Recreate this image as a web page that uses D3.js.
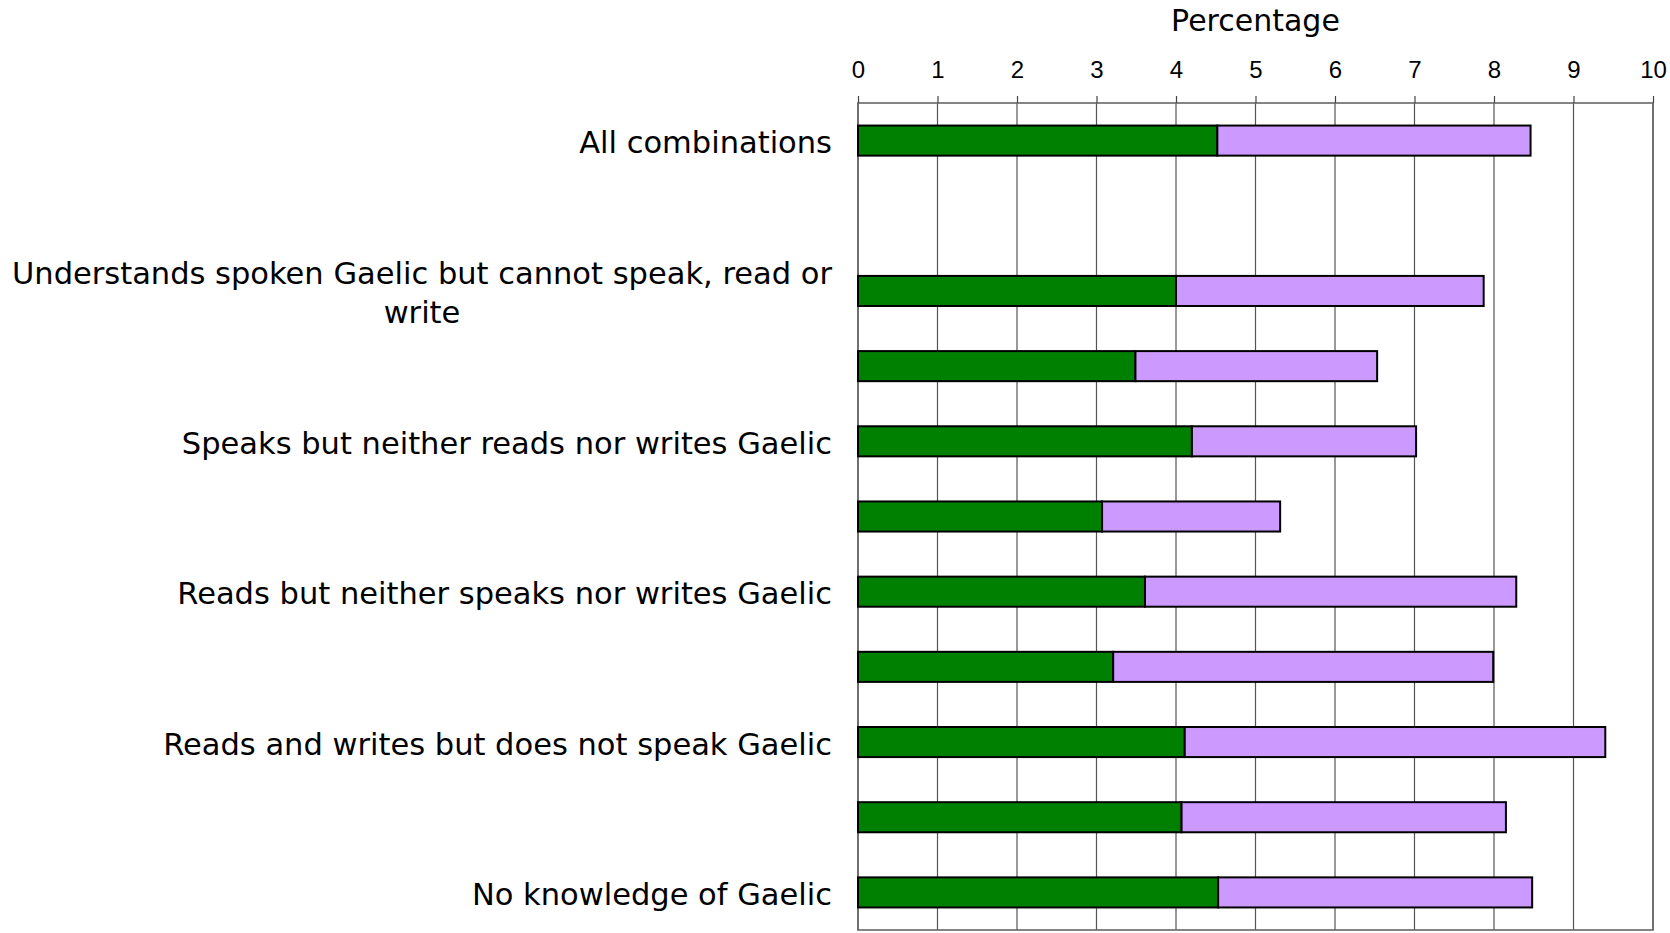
<!DOCTYPE html>
<html>
<head>
<meta charset="utf-8">
<script src="https://cdn.jsdelivr.net/npm/d3@7"></script>
<style>
  body { margin: 0; background: #fff; }
</style>
</head>
<body>
<div id="viz"></div>
<script>
// Rows top to bottom; empty label = row without a visible label
var categories = [
    "All combinations",
    "",
    "Understands spoken Gaelic but cannot speak, read or write",
    "",
    "Speaks but neither reads nor writes Gaelic",
    "",
    "Reads but neither speaks nor writes Gaelic",
    "",
    "Reads and writes but does not speak Gaelic",
    "",
    "No knowledge of Gaelic"
];
// first (green) segment and second (purple) segment, null = no bar
var greenValues  = [4.52, null, 4.00, 3.49, 4.20, 3.07, 3.61, 3.21, 4.11, 4.07, 4.53];
var purpleValues = [3.94, null, 3.87, 3.04, 2.82, 2.24, 4.67, 4.78, 5.29, 4.08, 3.95];
var xTicks = [0, 1, 2, 3, 4, 5, 6, 7, 8, 9, 10];
var axisTitle = "Percentage";

var chartWidth = 1670, chartHeight = 933;
var plotLeft = 858, plotRight = 1653, plotTop = 103, plotBottom = 930;
var labelFont = "'DejaVu Sans', Verdana, sans-serif";
var tickFont = "'Liberation Sans', Arial, sans-serif";
var labelSize = 30.5;

function main() {
    var svg = d3.select("#viz")
        .append("svg")
        .attr("width", chartWidth)
        .attr("height", chartHeight);

    var x = d3.scaleLinear().domain([0, 10]).range([plotLeft, plotRight]);
    var y = d3.scaleBand()
        .domain(d3.range(categories.length))
        .range([plotTop, plotBottom])
        .paddingInner(0.6)
        .paddingOuter(0.3);

    // gridlines
    svg.append("g")
        .selectAll("line")
        .data(xTicks)
        .enter().append("line")
        .attr("x1", function(d) { return x(d); })
        .attr("x2", function(d) { return x(d); })
        .attr("y1", plotTop)
        .attr("y2", plotBottom)
        .attr("stroke", "#555")
        .attr("stroke-width", 1.2);

    // plot frame
    svg.append("rect")
        .attr("x", plotLeft)
        .attr("y", plotTop)
        .attr("width", plotRight - plotLeft)
        .attr("height", plotBottom - plotTop)
        .attr("fill", "none")
        .attr("stroke", "#666")
        .attr("stroke-width", 1.6);

    // top axis
    var axis = svg.append("g")
        .attr("transform", "translate(0," + plotTop + ")")
        .call(d3.axisTop(x).tickValues(xTicks).tickSize(7).tickPadding(18).tickFormat(d3.format("d")));
    axis.select(".domain").remove();
    axis.selectAll(".tick line").attr("stroke", "#444").attr("stroke-width", 1.2);
    axis.selectAll(".tick text")
        .attr("font-family", tickFont)
        .attr("font-size", 24)
        .attr("fill", "#000");

    svg.append("text")
        .attr("x", (plotLeft + plotRight) / 2)
        .attr("y", 31)
        .attr("text-anchor", "middle")
        .attr("font-family", labelFont)
        .attr("font-size", 30)
        .text(axisTitle);

    // stacked bars
    var rows = categories.map(function(c, i) {
        return { i: i, green: greenValues[i], purple: purpleValues[i] };
    }).filter(function(r) { return r.green != null; });

    var layers = d3.stack().keys(["green", "purple"])(rows);
    var colors = { green: "#008000", purple: "#cc99ff" };

    svg.append("g")
        .selectAll("g")
        .data(layers)
        .enter().append("g")
        .attr("fill", function(d) { return colors[d.key]; })
        .selectAll("rect")
        .data(function(d) { return d; })
        .enter().append("rect")
        .attr("x", function(d) { return x(d[0]); })
        .attr("y", function(d) { return y(d.data.i); })
        .attr("width", function(d) { return x(d[1]) - x(d[0]); })
        .attr("height", y.bandwidth())
        .attr("stroke", "#000")
        .attr("stroke-width", 2);

    // category labels, wrapped and centred when too long
    var labelRight = 832, maxWidth = 840, lineHeight = 39, wrapCenter = 422;
    var labels = svg.append("g")
        .attr("font-family", labelFont)
        .attr("font-size", labelSize)
        .attr("fill", "#000");

    categories.forEach(function(c, i) {
        if (!c) return;
        var cy = y(i) + y.bandwidth() / 2 + 2;
        var t = labels.append("text")
            .attr("x", labelRight)
            .attr("y", cy)
            .attr("dy", "0.35em")
            .attr("text-anchor", "end")
            .text(c);
        if (t.node().getComputedTextLength() <= maxWidth) return;

        // split into lines
        var words = c.split(" "), lines = [], line = [];
        t.text(null).attr("dy", null);
        var probe = t.append("tspan");
        words.forEach(function(w) {
            line.push(w);
            probe.text(line.join(" "));
            if (probe.node().getComputedTextLength() > maxWidth && line.length > 1) {
                line.pop();
                lines.push(line.join(" "));
                line = [w];
            }
        });
        lines.push(line.join(" "));
        probe.remove();

        t.attr("text-anchor", "middle").attr("x", wrapCenter);
        lines.forEach(function(l, k) {
            t.append("tspan")
                .attr("x", wrapCenter)
                .attr("y", cy + (k - (lines.length - 1) / 2) * lineHeight)
                .attr("dy", "0.35em")
                .text(l);
        });
    });
}

main();
</script>
</body>
</html>
